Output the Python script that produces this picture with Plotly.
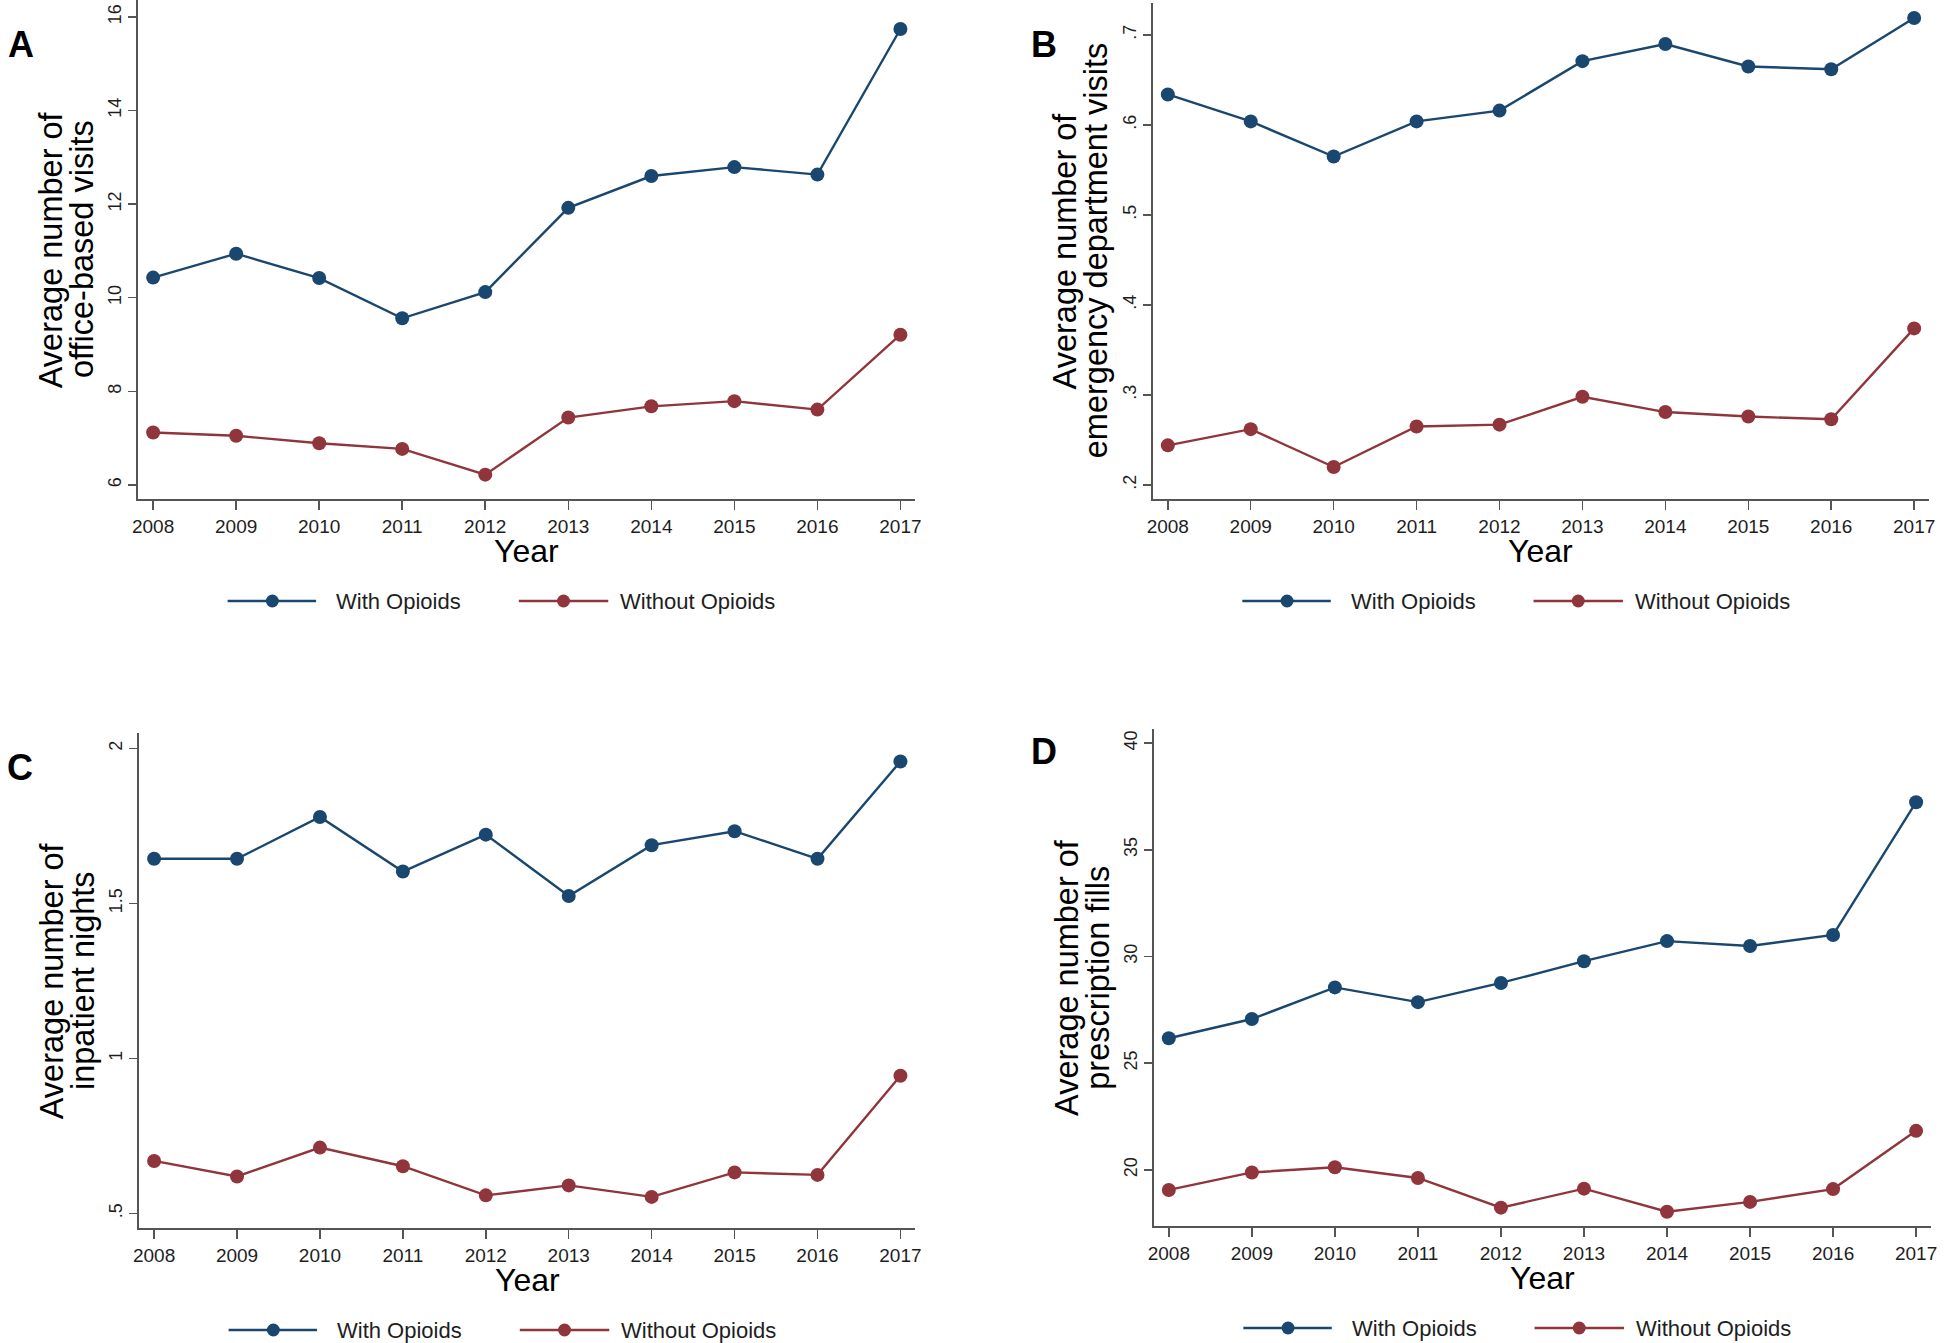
import plotly.graph_objects as go

# ---------------- data ----------------
years = [2008, 2009, 2010, 2011, 2012, 2013, 2014, 2015, 2016, 2017]

office_with = [10.43, 10.94, 10.42, 9.56, 10.12, 11.92, 12.60, 12.79, 12.63, 15.74]
office_without = [7.12, 7.05, 6.89, 6.77, 6.22, 7.44, 7.68, 7.79, 7.61, 9.21]

ed_with = [0.634, 0.604, 0.565, 0.604, 0.616, 0.671, 0.690, 0.665, 0.662, 0.719]
ed_without = [0.244, 0.262, 0.220, 0.265, 0.267, 0.298, 0.281, 0.276, 0.273, 0.374]

inpt_with = [1.644, 1.644, 1.779, 1.603, 1.722, 1.524, 1.688, 1.733, 1.644, 1.958]
inpt_without = [0.669, 0.619, 0.712, 0.652, 0.558, 0.590, 0.553, 0.632, 0.624, 0.944]

rx_with = [26.17, 27.07, 28.55, 27.86, 28.76, 29.78, 30.72, 30.49, 31.01, 37.23]
rx_without = [19.06, 19.88, 20.12, 19.62, 18.23, 19.12, 18.04, 18.50, 19.10, 21.83]

series_names = ["With Opioids", "Without Opioids"]
panel_letters = ["A", "B", "C", "D"]
title_line1 = ["Average number of"] * 4
title_line2 = ["office-based visits", "emergency department visits",
               "inpatient nights", "prescription fills"]

ytick_vals_A = [6, 8, 10, 12, 14, 16]
ytick_text_A = ["6", "8", "10", "12", "14", "16"]
ytick_vals_B = [0.2, 0.3, 0.4, 0.5, 0.6, 0.7]
ytick_text_B = [".2", ".3", ".4", ".5", ".6", ".7"]
ytick_vals_C = [0.5, 1.0, 1.5, 2.0]
ytick_text_C = [".5", "1", "1.5", "2"]
ytick_vals_D = [20, 25, 30, 35, 40]
ytick_text_D = ["20", "25", "30", "35", "40"]
xtick_text = [str(y) for y in years]

# ---------------- style / layout ----------------
W, H = 1946, 1343
BLUE = "#1a476f"
RED = "#90353b"
AXIS = "#555555"
TXT = "#1e1e1e"
FONT = "Liberation Sans, Arial, sans-serif"

def fx(p):
    return p / W

def fy(p):
    return 1 - p / H

# left, right, top, bottom (pixels), y range
panels = [
    dict(l=133, r=915, t=0, b=499, yr=[5.70, 16.36], tv=ytick_vals_A, tt=ytick_text_A,
         d=(office_with, office_without), lx=15, ly=45),
    dict(l=1154, r=1935, t=3, b=499, yr=[0.1844, 0.7356], tv=ytick_vals_B, tt=ytick_text_B,
         d=(ed_with, ed_without), lx=1044, ly=45),
    dict(l=134, r=915, t=733, b=1228, yr=[0.4526, 2.05], tv=ytick_vals_C, tt=ytick_text_C,
         d=(inpt_with, inpt_without), lx=14, ly=767),
    dict(l=1155, r=1937, t=729, b=1226, yr=[17.37, 40.66], tv=ytick_vals_D, tt=ytick_text_D,
         d=(rx_with, rx_without), lx=1044, ly=751),
]

fig = go.Figure()
annotations = []
shapes = []
colors = [BLUE, RED]

for i, p in enumerate(panels):
    k = "" if i == 0 else str(i + 1)
    for j in range(2):
        fig.add_trace(go.Scatter(
            x=years, y=p["d"][j], mode="lines+markers", name=series_names[j],
            line=dict(color=colors[j], width=2.4),
            marker=dict(color=colors[j], size=14, symbol="circle"),
            xaxis="x" + k, yaxis="y" + k, showlegend=False,
        ))
    axcommon = dict(showline=True, linecolor=AXIS, linewidth=2, showgrid=False,
                    zeroline=False, ticks="outside", tickcolor=AXIS, tickwidth=1.5)
    fig.update_layout(**{
        "xaxis" + k: dict(domain=[fx(p["l"]), fx(p["r"])], range=[2007.82, 2017.18],
                          anchor="y" + k, tickvals=years, ticktext=xtick_text, ticklen=9,
                          tickfont=dict(size=19, color=TXT, family=FONT), **axcommon),
        "yaxis" + k: dict(domain=[fy(p["b"]), fy(p["t"])], range=p["yr"], anchor="x" + k,
                          tickvals=p["tv"], ticktext=p["tt"], ticklen=8, tickangle=-90,
                          tickfont=dict(size=18, color=TXT, family=FONT), **axcommon),
    })
    cy = (p["t"] + p["b"]) / 2
    cx = (p["l"] + p["r"]) / 2
    # y-axis title (two tight lines)
    annotations.append(dict(text=title_line1[i], x=fx(p["l"] - 88), y=fy(cy), xref="paper",
                            yref="paper", showarrow=False, textangle=-90, xanchor="center",
                            yanchor="middle", font=dict(size=32.5, color="black", family=FONT)))
    annotations.append(dict(text=title_line2[i], x=fx(p["l"] - 57), y=fy(cy), xref="paper",
                            yref="paper", showarrow=False, textangle=-90, xanchor="center",
                            yanchor="middle", font=dict(size=32.5, color="black", family=FONT)))
    # x-axis title
    annotations.append(dict(text="Year", x=fx(cx), y=fy(p["b"] + 52), xref="paper", yref="paper",
                            showarrow=False, xanchor="center", yanchor="middle",
                            font=dict(size=32, color="black", family=FONT)))
    # panel letter
    annotations.append(dict(text="<b>" + panel_letters[i] + "</b>", x=fx(p["lx"]), y=fy(p["ly"]),
                            xref="paper", yref="paper", showarrow=False, xanchor="center",
                            yanchor="middle", font=dict(size=36, color="black", family=FONT)))
    # legend
    ly = fy(p["b"] + 102)
    for j, (a, b_, m, t) in enumerate([(90, 179, 135, 197), (383, 473, 428, 483)]):
        shapes.append(dict(type="line", xref="paper", yref="paper", x0=fx(p["l"] + a),
                           x1=fx(p["l"] + b_), y0=ly, y1=ly, line=dict(color=colors[j], width=2.5)))
        shapes.append(dict(type="circle", xref="paper", yref="paper", xsizemode="pixel",
                           ysizemode="pixel", xanchor=fx(p["l"] + m), yanchor=ly,
                           x0=-6.5, x1=6.5, y0=-6.5, y1=6.5,
                           fillcolor=colors[j], line=dict(color=colors[j], width=0)))
        annotations.append(dict(text=series_names[j], x=fx(p["l"] + t), y=ly, xref="paper",
                                yref="paper", showarrow=False, xanchor="left", yanchor="middle",
                                font=dict(size=22, color=TXT, family=FONT)))

fig.update_layout(
    width=W, height=H, margin=dict(l=0, r=0, t=0, b=0),
    paper_bgcolor="white", plot_bgcolor="white",
    font=dict(family=FONT, color=TXT),
    annotations=annotations, shapes=shapes, showlegend=False,
    hovermode=False,
)

fig.write_html("out.html", config={"displayModeBar": False, "staticPlot": True},
               post_script="document.body.style.margin='0';document.body.style.overflow='hidden';")
